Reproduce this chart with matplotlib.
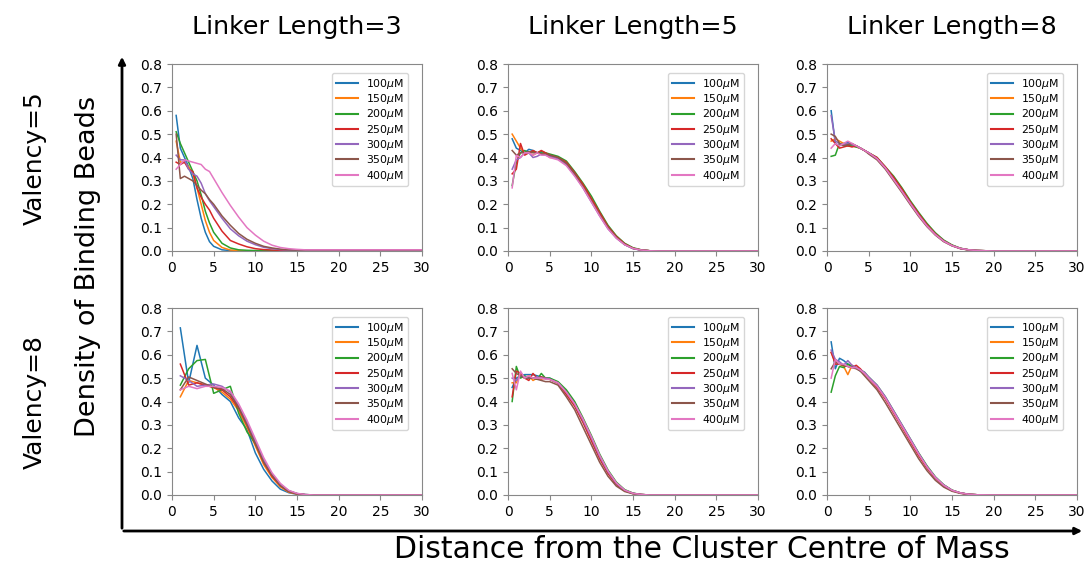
import matplotlib
matplotlib.use("Agg")
import matplotlib.pyplot as plt
from matplotlib.patches import FancyArrowPatch

# ---------------- data ----------------
concentrations = ["100", "150", "200", "250", "300", "350", "400"]
col_titles = ["Linker Length=3", "Linker Length=5", "Linker Length=8"]
row_titles = ["Valency=5", "Valency=8"]
x_ticks = [0, 5, 10, 15, 20, 25, 30]
y_ticks = [0.0, 0.1, 0.2, 0.3, 0.4, 0.5, 0.6, 0.7, 0.8]

x_half = [0.5, 1.0, 1.5, 2.0, 2.5, 3.0, 3.5, 4.0, 4.5, 5.0, 6, 7, 8, 9, 10, 11, 12, 13, 14, 15, 16, 17, 18, 20, 30]
x_unit = [1, 2, 3, 4, 5, 6, 7, 8, 9, 10, 11, 12, 13, 14, 15, 16, 17, 18, 20, 30]

# Valency=5, Linker Length=3
v5_l3_100 = [0.58, 0.44, 0.40, 0.36, 0.31, 0.22, 0.14, 0.08, 0.04, 0.02, 0.005, 0.002, 0.001, 0.001, 0.001, 0.001, 0.001, 0.001, 0.001, 0.001, 0.001, 0.001, 0.001, 0.001, 0.001]
v5_l3_150 = [0.47, 0.38, 0.38, 0.36, 0.33, 0.27, 0.20, 0.13, 0.08, 0.045, 0.015, 0.004, 0.002, 0.001, 0.001, 0.001, 0.001, 0.001, 0.001, 0.001, 0.001, 0.001, 0.001, 0.001, 0.001]
v5_l3_200 = [0.51, 0.46, 0.42, 0.38, 0.34, 0.30, 0.24, 0.17, 0.12, 0.08, 0.033, 0.013, 0.005, 0.003, 0.002, 0.002, 0.002, 0.002, 0.002, 0.002, 0.002, 0.002, 0.002, 0.002, 0.002]
v5_l3_250 = [0.38, 0.37, 0.38, 0.35, 0.34, 0.27, 0.23, 0.20, 0.175, 0.14, 0.085, 0.045, 0.03, 0.018, 0.01, 0.006, 0.004, 0.003, 0.003, 0.003, 0.003, 0.003, 0.003, 0.003, 0.003]
v5_l3_300 = [0.41, 0.39, 0.39, 0.35, 0.33, 0.32, 0.29, 0.245, 0.215, 0.19, 0.14, 0.095, 0.065, 0.042, 0.027, 0.016, 0.01, 0.006, 0.004, 0.003, 0.003, 0.003, 0.003, 0.003, 0.003]
v5_l3_350 = [0.50, 0.31, 0.32, 0.31, 0.30, 0.28, 0.26, 0.245, 0.22, 0.20, 0.15, 0.11, 0.075, 0.05, 0.033, 0.02, 0.013, 0.008, 0.005, 0.004, 0.004, 0.004, 0.004, 0.004, 0.004]
v5_l3_400 = [0.35, 0.37, 0.39, 0.385, 0.38, 0.375, 0.37, 0.35, 0.34, 0.31, 0.25, 0.195, 0.145, 0.10, 0.068, 0.042, 0.025, 0.015, 0.01, 0.007, 0.005, 0.005, 0.005, 0.005, 0.005]

# Valency=5, Linker Length=5
v5_l5_100 = [0.48, 0.44, 0.43, 0.42, 0.435, 0.43, 0.42, 0.42, 0.415, 0.41, 0.40, 0.37, 0.325, 0.275, 0.215, 0.155, 0.10, 0.058, 0.028, 0.011, 0.004, 0.001, 0.0, 0.0, 0.0]
v5_l5_150 = [0.50, 0.47, 0.44, 0.42, 0.42, 0.41, 0.42, 0.415, 0.42, 0.40, 0.40, 0.375, 0.33, 0.28, 0.22, 0.16, 0.10, 0.06, 0.03, 0.012, 0.004, 0.001, 0.0, 0.0, 0.0]
v5_l5_200 = [0.28, 0.38, 0.42, 0.43, 0.42, 0.425, 0.42, 0.425, 0.42, 0.415, 0.405, 0.385, 0.34, 0.29, 0.235, 0.17, 0.11, 0.065, 0.033, 0.014, 0.005, 0.001, 0.0, 0.0, 0.0]
v5_l5_250 = [0.33, 0.35, 0.46, 0.41, 0.42, 0.43, 0.42, 0.43, 0.42, 0.41, 0.40, 0.38, 0.335, 0.285, 0.225, 0.165, 0.105, 0.062, 0.031, 0.012, 0.004, 0.001, 0.0, 0.0, 0.0]
v5_l5_300 = [0.35, 0.39, 0.40, 0.42, 0.42, 0.40, 0.405, 0.415, 0.41, 0.405, 0.395, 0.37, 0.325, 0.27, 0.21, 0.15, 0.095, 0.055, 0.027, 0.01, 0.003, 0.001, 0.0, 0.0, 0.0]
v5_l5_350 = [0.43, 0.41, 0.42, 0.42, 0.425, 0.42, 0.42, 0.415, 0.415, 0.41, 0.40, 0.375, 0.33, 0.275, 0.215, 0.155, 0.10, 0.058, 0.028, 0.011, 0.004, 0.001, 0.0, 0.0, 0.0]
v5_l5_400 = [0.27, 0.41, 0.40, 0.42, 0.42, 0.41, 0.42, 0.41, 0.41, 0.40, 0.39, 0.365, 0.32, 0.27, 0.21, 0.15, 0.095, 0.055, 0.027, 0.011, 0.004, 0.001, 0.0, 0.0, 0.0]

# Valency=5, Linker Length=8
v5_l8_100 = [0.60, 0.46, 0.45, 0.46, 0.465, 0.455, 0.45, 0.44, 0.43, 0.42, 0.395, 0.355, 0.31, 0.26, 0.205, 0.155, 0.11, 0.072, 0.043, 0.024, 0.011, 0.005, 0.002, 0.0, 0.0]
v5_l8_150 = [0.47, 0.48, 0.47, 0.46, 0.45, 0.45, 0.445, 0.44, 0.43, 0.42, 0.395, 0.355, 0.31, 0.26, 0.207, 0.155, 0.11, 0.072, 0.043, 0.024, 0.011, 0.005, 0.002, 0.0, 0.0]
v5_l8_200 = [0.405, 0.41, 0.46, 0.455, 0.45, 0.45, 0.445, 0.44, 0.43, 0.42, 0.40, 0.36, 0.32, 0.27, 0.215, 0.165, 0.118, 0.078, 0.047, 0.026, 0.012, 0.005, 0.002, 0.0, 0.0]
v5_l8_250 = [0.48, 0.46, 0.44, 0.445, 0.45, 0.445, 0.45, 0.44, 0.43, 0.42, 0.40, 0.36, 0.315, 0.265, 0.21, 0.16, 0.113, 0.074, 0.044, 0.024, 0.011, 0.005, 0.002, 0.0, 0.0]
v5_l8_300 = [0.58, 0.47, 0.46, 0.455, 0.46, 0.455, 0.45, 0.44, 0.43, 0.42, 0.395, 0.355, 0.305, 0.255, 0.203, 0.152, 0.107, 0.07, 0.042, 0.023, 0.011, 0.005, 0.002, 0.0, 0.0]
v5_l8_350 = [0.50, 0.49, 0.46, 0.45, 0.455, 0.46, 0.45, 0.44, 0.43, 0.415, 0.39, 0.35, 0.30, 0.25, 0.198, 0.148, 0.104, 0.068, 0.04, 0.022, 0.01, 0.004, 0.002, 0.0, 0.0]
v5_l8_400 = [0.44, 0.46, 0.45, 0.46, 0.47, 0.46, 0.45, 0.44, 0.43, 0.42, 0.395, 0.355, 0.305, 0.255, 0.203, 0.152, 0.107, 0.07, 0.042, 0.023, 0.011, 0.005, 0.002, 0.0, 0.0]

# Valency=8, Linker Length=3 (unit spacing)
v8_l3_100 = [0.715, 0.48, 0.64, 0.50, 0.47, 0.43, 0.40, 0.33, 0.28, 0.18, 0.11, 0.06, 0.025, 0.01, 0.003, 0.001, 0.0, 0.0, 0.0, 0.0]
v8_l3_150 = [0.42, 0.49, 0.48, 0.47, 0.46, 0.44, 0.41, 0.36, 0.29, 0.21, 0.13, 0.075, 0.035, 0.012, 0.004, 0.001, 0.0, 0.0, 0.0, 0.0]
v8_l3_200 = [0.47, 0.54, 0.575, 0.58, 0.435, 0.45, 0.465, 0.35, 0.27, 0.22, 0.145, 0.085, 0.045, 0.018, 0.006, 0.002, 0.0, 0.0, 0.0, 0.0]
v8_l3_250 = [0.56, 0.47, 0.48, 0.47, 0.46, 0.45, 0.42, 0.37, 0.30, 0.22, 0.14, 0.08, 0.04, 0.015, 0.005, 0.001, 0.0, 0.0, 0.0, 0.0]
v8_l3_300 = [0.51, 0.49, 0.465, 0.47, 0.475, 0.465, 0.44, 0.38, 0.31, 0.23, 0.15, 0.09, 0.045, 0.018, 0.006, 0.002, 0.0, 0.0, 0.0, 0.0]
v8_l3_350 = [0.45, 0.505, 0.49, 0.475, 0.46, 0.455, 0.43, 0.375, 0.30, 0.22, 0.14, 0.085, 0.04, 0.015, 0.005, 0.001, 0.0, 0.0, 0.0, 0.0]
v8_l3_400 = [0.45, 0.465, 0.455, 0.465, 0.465, 0.46, 0.445, 0.39, 0.32, 0.24, 0.16, 0.095, 0.05, 0.02, 0.007, 0.002, 0.0, 0.0, 0.0, 0.0]

# Valency=8, Linker Length=5
v8_l5_100 = [0.46, 0.50, 0.51, 0.515, 0.515, 0.515, 0.51, 0.505, 0.50, 0.50, 0.48, 0.44, 0.39, 0.32, 0.245, 0.165, 0.10, 0.05, 0.02, 0.007, 0.002, 0.0, 0.0, 0.0, 0.0]
v8_l5_150 = [0.48, 0.48, 0.52, 0.50, 0.51, 0.49, 0.50, 0.495, 0.50, 0.495, 0.48, 0.44, 0.39, 0.32, 0.245, 0.165, 0.10, 0.05, 0.02, 0.007, 0.002, 0.0, 0.0, 0.0, 0.0]
v8_l5_200 = [0.40, 0.55, 0.50, 0.51, 0.50, 0.50, 0.495, 0.52, 0.50, 0.50, 0.485, 0.45, 0.40, 0.33, 0.255, 0.175, 0.107, 0.055, 0.023, 0.008, 0.002, 0.0, 0.0, 0.0, 0.0]
v8_l5_250 = [0.42, 0.53, 0.52, 0.50, 0.49, 0.52, 0.50, 0.505, 0.50, 0.495, 0.478, 0.43, 0.38, 0.31, 0.232, 0.155, 0.092, 0.045, 0.018, 0.006, 0.002, 0.0, 0.0, 0.0, 0.0]
v8_l5_300 = [0.50, 0.49, 0.51, 0.505, 0.50, 0.50, 0.505, 0.50, 0.50, 0.495, 0.48, 0.44, 0.39, 0.32, 0.245, 0.165, 0.10, 0.05, 0.02, 0.007, 0.002, 0.0, 0.0, 0.0, 0.0]
v8_l5_350 = [0.54, 0.52, 0.51, 0.50, 0.50, 0.50, 0.495, 0.49, 0.485, 0.485, 0.47, 0.42, 0.365, 0.29, 0.215, 0.14, 0.08, 0.038, 0.015, 0.005, 0.001, 0.0, 0.0, 0.0, 0.0]
v8_l5_400 = [0.52, 0.45, 0.53, 0.50, 0.51, 0.50, 0.50, 0.50, 0.495, 0.495, 0.48, 0.44, 0.39, 0.325, 0.25, 0.17, 0.103, 0.052, 0.021, 0.007, 0.002, 0.0, 0.0, 0.0, 0.0]

# Valency=8, Linker Length=8
v8_l8_100 = [0.655, 0.54, 0.585, 0.575, 0.56, 0.55, 0.545, 0.53, 0.52, 0.50, 0.465, 0.415, 0.355, 0.295, 0.235, 0.175, 0.12, 0.075, 0.042, 0.02, 0.009, 0.003, 0.001, 0.0, 0.0]
v8_l8_150 = [0.61, 0.57, 0.56, 0.55, 0.515, 0.555, 0.545, 0.535, 0.52, 0.50, 0.465, 0.415, 0.355, 0.295, 0.235, 0.175, 0.12, 0.075, 0.042, 0.02, 0.009, 0.003, 0.001, 0.0, 0.0]
v8_l8_200 = [0.44, 0.51, 0.55, 0.545, 0.56, 0.55, 0.545, 0.535, 0.525, 0.505, 0.47, 0.42, 0.36, 0.30, 0.24, 0.18, 0.125, 0.078, 0.044, 0.021, 0.009, 0.003, 0.001, 0.0, 0.0]
v8_l8_250 = [0.61, 0.56, 0.56, 0.555, 0.55, 0.545, 0.555, 0.54, 0.52, 0.50, 0.46, 0.41, 0.35, 0.29, 0.228, 0.168, 0.115, 0.071, 0.04, 0.019, 0.008, 0.003, 0.001, 0.0, 0.0]
v8_l8_300 = [0.62, 0.58, 0.57, 0.555, 0.575, 0.555, 0.545, 0.535, 0.525, 0.505, 0.47, 0.42, 0.36, 0.30, 0.24, 0.178, 0.122, 0.076, 0.043, 0.02, 0.009, 0.003, 0.001, 0.0, 0.0]
v8_l8_350 = [0.54, 0.57, 0.56, 0.555, 0.55, 0.545, 0.54, 0.53, 0.51, 0.49, 0.45, 0.395, 0.335, 0.275, 0.215, 0.155, 0.104, 0.063, 0.034, 0.016, 0.007, 0.002, 0.001, 0.0, 0.0]
v8_l8_400 = [0.50, 0.58, 0.56, 0.56, 0.55, 0.545, 0.545, 0.535, 0.52, 0.50, 0.465, 0.415, 0.355, 0.295, 0.235, 0.175, 0.12, 0.075, 0.042, 0.02, 0.009, 0.003, 0.001, 0.0, 0.0]

panels = [
    [(x_half, [v5_l3_100, v5_l3_150, v5_l3_200, v5_l3_250, v5_l3_300, v5_l3_350, v5_l3_400]),
     (x_half, [v5_l5_100, v5_l5_150, v5_l5_200, v5_l5_250, v5_l5_300, v5_l5_350, v5_l5_400]),
     (x_half, [v5_l8_100, v5_l8_150, v5_l8_200, v5_l8_250, v5_l8_300, v5_l8_350, v5_l8_400])],
    [(x_unit, [v8_l3_100, v8_l3_150, v8_l3_200, v8_l3_250, v8_l3_300, v8_l3_350, v8_l3_400]),
     (x_half, [v8_l5_100, v8_l5_150, v8_l5_200, v8_l5_250, v8_l5_300, v8_l5_350, v8_l5_400]),
     (x_half, [v8_l8_100, v8_l8_150, v8_l8_200, v8_l8_250, v8_l8_300, v8_l8_350, v8_l8_400])],
]

# ---------------- layout ----------------
W, H = 1086, 566
fig = plt.figure(figsize=(W / 100, H / 100), dpi=100)
colors = plt.rcParams['axes.prop_cycle'].by_key()['color']

col_left = [172, 508, 827]
row_top = [64, 308]
ax_w, ax_h = 250, 187

for r in range(2):
    for c in range(3):
        ax = fig.add_axes([col_left[c] / W, 1 - (row_top[r] + ax_h) / H, ax_w / W, ax_h / H])
        xs, series = panels[r][c]
        for i, ys in enumerate(series):
            ax.plot(xs, ys, color=colors[i], lw=1.1, label=concentrations[i] + r'$\mu$M')
        ax.set_xlim(0, 30)
        ax.set_ylim(0, 0.8)
        ax.set_xticks(x_ticks)
        ax.set_yticks(y_ticks)
        ax.set_yticklabels([f"{v:.1f}" for v in y_ticks])
        ax.tick_params(labelsize=10, color='#888888', length=3.5, width=0.8)
        for sp in ax.spines.values():
            sp.set_color('#888888')
            sp.set_linewidth(0.8)
        leg = ax.legend(loc='upper right', bbox_to_anchor=(0.945, 0.952), borderaxespad=0,
                        fontsize=7.8, frameon=True, labelspacing=0.12, handlelength=2.0,
                        handletextpad=0.8, borderpad=0.35)
        for h in leg.get_lines():
            h.set_linewidth(1.5)

for c in range(3):
    fig.text((col_left[c] + ax_w / 2) / W, 1 - 27 / H, col_titles[c], ha='center', va='center',
             fontsize=18.3)
fig.text(35 / W, 1 - 158 / H, row_titles[0], rotation=90, ha='center', va='center', fontsize=18)
fig.text(35 / W, 1 - 402 / H, row_titles[1], rotation=90, ha='center', va='center', fontsize=18)
fig.text(88 / W, 1 - 266 / H, "Density of Binding Beads", rotation=90, ha='center', va='center',
         fontsize=19.5)
fig.text(702 / W, 1 - 549 / H, "Distance from the Cluster Centre of Mass", ha='center', va='center',
         fontsize=21.5)

# big axes arrows
fig.add_artist(FancyArrowPatch((122 / W, 1 - 531 / H), (122 / W, 1 - 54 / H), transform=fig.transFigure,
                               arrowstyle='-|>', mutation_scale=10, lw=2, color='black'))
fig.add_artist(FancyArrowPatch((121 / W, 1 - 531 / H), (1085 / W, 1 - 531 / H), transform=fig.transFigure,
                               arrowstyle='-|>', mutation_scale=10, lw=2, color='black'))

fig.savefig("out.png", dpi=100)
